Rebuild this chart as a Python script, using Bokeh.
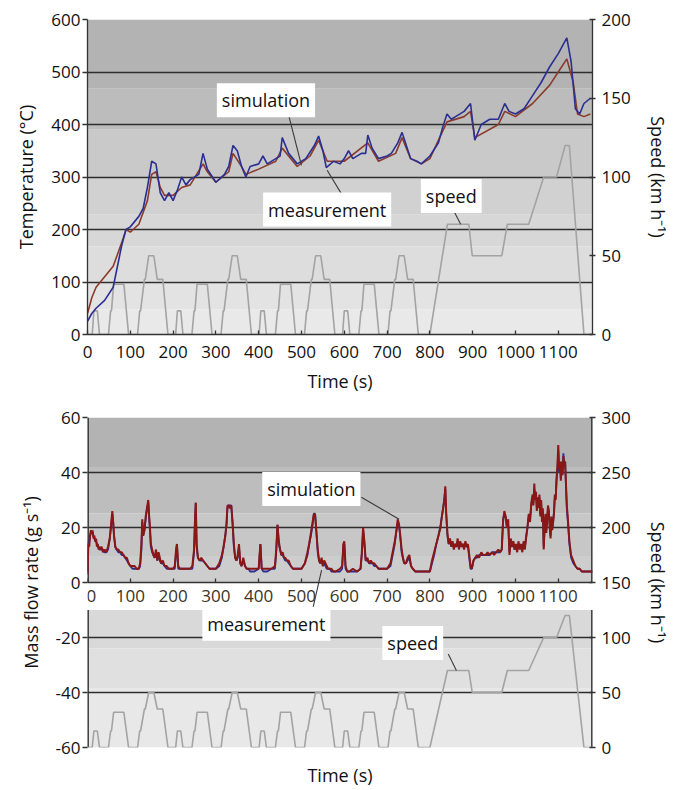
from bokeh.plotting import figure
from bokeh.models import LinearAxis, Range1d, FixedTicker, Label
from bokeh.layouts import column
from bokeh.embed import file_html
from bokeh.resources import INLINE

FONT = "Open Sans"
TICK_SIZE = "17px"
TITLE_SIZE = "18px"
LABEL_SIZE = "18px"

# ------------------------------------------------------------------ data
# exhaust temperature (top panel)
temp_sim_t = [0, 10, 20, 40, 60, 70, 80, 90, 100, 110,
              120, 130, 140, 150, 160, 170, 180, 190, 200, 210,
              220, 230, 240, 260, 270, 280, 300, 320, 330, 340,
              350, 360, 370, 380, 400, 410, 420, 440, 450, 455,
              470, 490, 510, 530, 540, 550, 558, 575, 590, 600,
              610, 620, 640, 650, 655, 665, 680, 700, 710, 725,
              735, 745, 755, 770, 780, 800, 820, 830, 840, 850,
              860, 880, 895, 905, 920, 940, 960, 975, 985, 1000,
              1020, 1040, 1060, 1080, 1100, 1120, 1130, 1140, 1150, 1160,
              1175]
temp_sim = [25, 40, 50, 65, 90, 130, 170, 200, 205, 215,
            225, 240, 280, 330, 325, 270, 255, 270, 255, 275,
            300, 285, 295, 305, 345, 315, 290, 305, 320, 360,
            350, 320, 300, 320, 325, 340, 325, 335, 340, 375,
            345, 325, 335, 360, 378, 350, 318, 330, 325, 335,
            350, 335, 345, 345, 380, 355, 335, 340, 345, 365,
            385, 360, 335, 330, 325, 340, 365, 395, 420, 410,
            415, 425, 440, 370, 400, 410, 410, 440, 425, 420,
            430, 455, 480, 510, 535, 565, 520, 430, 420, 440,
            450]
temp_meas_t = [0, 10, 20, 40, 60, 80, 90, 100, 120, 140,
               150, 160, 170, 180, 200, 220, 240, 270, 280, 300,
               330, 340, 360, 370, 400, 440, 455, 490, 520, 540,
               560, 600, 655, 680, 720, 735, 755, 780, 800, 840,
               880, 895, 905, 960, 975, 1000, 1040, 1080, 1100, 1120,
               1135, 1145, 1160, 1175]
temp_meas = [40, 70, 90, 110, 130, 175, 200, 195, 210, 255,
             305, 310, 280, 265, 265, 280, 285, 325, 310, 290,
             310, 345, 320, 305, 315, 330, 355, 320, 340, 370,
             330, 330, 365, 330, 345, 375, 335, 325, 335, 405,
             415, 425, 375, 400, 425, 415, 440, 475, 500, 525,
             480, 420, 415, 420]

# vehicle speed (NEDC)
speed_t = [0, 11, 15, 23, 28, 49, 54, 56, 61, 85, 96, 117, 122, 124, 133, 135, 143, 155, 163, 176, 188,
           195, 206, 210, 218, 223, 244, 249, 251, 256, 280, 291, 312, 317, 319, 328, 330, 338, 350, 358, 371, 383,
           390, 401, 405, 413, 418, 439, 444, 446, 451, 475, 486, 507, 512, 514, 523, 525, 533, 545, 553, 566, 578,
           585, 596, 600, 608, 613, 634, 639, 641, 646, 670, 681, 702, 707, 709, 718, 720, 728, 740, 748, 761, 773,
           780, 800, 841, 891, 899, 968, 981, 1031, 1066, 1096, 1116, 1126, 1160, 1180]
speed_v = [0, 0, 15, 15, 0, 0, 15, 15, 32, 32, 0, 0, 15, 15, 35, 35, 50, 50, 35, 35, 0,
           0, 0, 15, 15, 0, 0, 15, 15, 32, 32, 0, 0, 15, 15, 35, 35, 50, 50, 35, 35, 0,
           0, 0, 15, 15, 0, 0, 15, 15, 32, 32, 0, 0, 15, 15, 35, 35, 50, 50, 35, 35, 0,
           0, 0, 15, 15, 0, 0, 15, 15, 32, 32, 0, 0, 15, 15, 35, 35, 50, 50, 35, 35, 0,
           0, 0, 70, 70, 50, 50, 70, 70, 100, 100, 120, 120, 0, 0]

# exhaust mass flow rate (bottom panel)
mf_t = [0, 2, 4, 6, 8, 10, 12, 14, 16, 18,
        20, 22, 24, 26, 28, 30, 33, 36, 40, 44,
        48, 52, 55, 58, 60, 62, 65, 68, 72, 76,
        80, 84, 88, 92, 96, 100, 105, 110, 115, 120,
        123, 126, 128, 130, 133, 136, 139, 142, 144, 146,
        148, 151, 154, 157, 160, 163, 166, 169, 172, 176,
        180, 185, 190, 195,
        200, 204, 207, 209, 212, 216, 220, 230, 240, 245,
        249, 251, 253, 255, 258, 262, 266, 270, 275, 280,
        285, 290, 300, 308, 314, 318, 322, 325, 327, 330,
        333, 336, 339, 342, 345, 348, 351, 354, 357, 360,
        364, 368, 372, 376, 380, 390,
        400, 402, 404, 407, 411, 420, 430, 438, 441, 444,
        447, 450, 453, 456, 459, 462, 466, 470, 475, 480,
        490, 500, 508, 514, 518, 522, 526, 529, 532, 535,
        538, 541, 544, 547, 550, 553, 556, 559, 562, 566,
        570, 575, 580, 590, 595,
        598, 600, 603, 607, 612, 620, 630, 638, 641, 644,
        647, 650, 654, 658, 662, 666, 670, 675, 680, 690,
        700, 708, 713, 718, 722, 725, 728, 731, 734, 737,
        740, 744, 748, 752, 756, 760, 766, 772, 780, 790,
        800, 805, 810, 815, 820, 825, 828, 831, 834, 836,
        838, 841, 844, 847, 850, 853, 856, 859, 862, 865,
        868, 871, 874, 877, 880, 883, 886, 889, 892, 895,
        898, 902, 906, 910, 915, 920, 925, 930, 935, 940,
        945, 950, 955, 960, 964, 968, 971, 974, 977, 980,
        983, 986, 989, 992, 995, 998,
        1001, 1004, 1007, 1010, 1013, 1016, 1019, 1022, 1025, 1028,
        1031, 1034, 1037, 1040, 1042, 1044, 1046, 1048, 1050, 1052,
        1054, 1056, 1058, 1060, 1062, 1064, 1066, 1068, 1070, 1072,
        1074, 1076, 1078, 1080, 1082, 1084, 1086, 1088, 1090, 1092,
        1094, 1096, 1098, 1100, 1102, 1104, 1106, 1108, 1110, 1112,
        1114, 1116, 1118, 1120, 1123, 1126, 1130, 1135, 1140, 1145,
        1150, 1155, 1160, 1170, 1180]
mf_meas = [3, 14, 13, 17, 19, 18, 19, 16, 17, 15,
           16, 13, 14, 12, 13, 12, 13, 11, 12, 11,
           13, 16, 21, 26, 22, 17, 13, 12, 12, 11,
           11, 10, 9, 9, 7, 6, 6, 6, 5, 5,
           7, 14, 23, 17, 19, 24, 27, 30, 24, 20,
           14, 12, 10, 9, 12, 8, 11, 9, 7, 8,
           6, 6, 5, 5,
           5, 6, 12, 14, 6, 5, 5, 5, 5, 6,
           12, 22, 29, 14, 9, 8, 9, 8, 7, 6,
           5, 5, 5, 7, 10, 13, 17, 22, 28, 28,
           27, 28, 22, 14, 9, 8, 10, 14, 7, 6,
           9, 6, 5, 5, 5, 5,
           5, 10, 14, 5, 5, 5, 5, 6, 12, 21,
           15, 12, 10, 11, 9, 9, 8, 8, 6, 5,
           5, 5, 7, 11, 14, 18, 22, 25, 24, 18,
           12, 8, 7, 9, 6, 8, 7, 6, 5, 5,
           5, 4, 4, 5, 6,
           14, 15, 6, 4, 4, 5, 4, 5, 11, 20,
           15, 8, 9, 7, 8, 7, 7, 6, 5, 5,
           5, 7, 11, 15, 19, 23, 21, 17, 12, 9,
           7, 7, 9, 10, 6, 5, 4, 4, 4, 4,
           4, 8, 11, 14, 17, 20, 24, 27, 30, 35,
           26, 18, 14, 16, 13, 15, 12, 14, 13, 16,
           12, 15, 13, 14, 12, 15, 13, 14, 10, 6,
           5, 8, 9, 10, 9, 11, 10, 10, 11, 10,
           11, 10, 11, 12, 11, 12, 22, 26, 24, 20,
           23, 10, 16, 13, 15, 12,
           14, 11, 15, 12, 14, 11, 15, 12, 17, 20,
           25, 22, 29, 32, 28, 36, 30, 33, 26, 31,
           27, 32, 24, 30, 22, 27, 12, 20, 25, 18,
           23, 28, 26, 20, 16, 24, 19, 22, 25, 32,
           30, 38, 42, 50, 41, 44, 37, 43, 39, 46,
           42, 44, 36, 28, 22, 15, 10, 8, 6, 5,
           5, 4, 4, 4, 4]
mf_sim = [4, 15, 15, 17, 18, 18, 18, 17, 16, 15,
          15, 14, 13, 13, 12, 12, 12, 12, 11, 11,
          12, 16, 20, 25, 22, 17, 13, 12, 11, 11,
          10, 10, 9, 8, 7, 6, 5, 5, 5, 5,
          6, 12, 22, 17, 19, 23, 27, 29, 24, 19,
          13, 11, 10, 9, 11, 8, 10, 8, 7, 7,
          6, 5, 5, 5,
          5, 5, 11, 14, 5, 5, 5, 5, 5, 5,
          11, 21, 29, 13, 9, 8, 8, 8, 7, 6,
          5, 5, 5, 6, 9, 13, 17, 21, 27, 28,
          28, 28, 21, 13, 9, 8, 9, 13, 7, 6,
          8, 6, 5, 5, 4, 4,
          5, 9, 14, 5, 4, 4, 5, 5, 11, 21,
          14, 12, 10, 10, 9, 8, 8, 7, 6, 5,
          5, 5, 7, 10, 14, 17, 21, 25, 25, 18,
          11, 8, 7, 8, 6, 7, 6, 5, 5, 5,
          4, 4, 4, 4, 5,
          14, 14, 5, 4, 4, 4, 4, 5, 10, 19,
          14, 8, 8, 7, 7, 7, 6, 6, 5, 5,
          5, 6, 10, 14, 19, 22, 21, 16, 11, 9,
          7, 7, 8, 9, 6, 5, 4, 4, 4, 4,
          4, 7, 10, 14, 17, 21, 24, 27, 31, 34,
          25, 17, 14, 15, 14, 14, 13, 14, 13, 14,
          13, 14, 13, 14, 13, 14, 13, 13, 9, 5,
          5, 8, 9, 9, 10, 10, 10, 10, 10, 10,
          11, 11, 11, 11, 11, 12, 23, 25, 24, 20,
          21, 11, 14, 13, 14, 12,
          13, 12, 14, 13, 13, 12, 14, 13, 16, 20,
          24, 23, 28, 31, 29, 34, 31, 32, 27, 30,
          28, 31, 25, 29, 23, 26, 13, 19, 24, 19,
          22, 27, 26, 21, 17, 23, 20, 22, 26, 31,
          31, 37, 41, 48, 40, 43, 38, 44, 40, 47,
          43, 44, 35, 27, 21, 14, 9, 7, 6, 5,
          5, 4, 4, 4, 4]

# axes / ticks
T_MAX = 1180
time_ticks = [0, 100, 200, 300, 400, 500, 600, 700, 800, 900, 1000, 1100]
temp_ticks = [0, 100, 200, 300, 400, 500, 600]
temp_grid = [100, 200, 300, 400, 500]
speed_top_ticks = [0, 50, 100, 150, 200]
mf_ticks = [-60, -40, -20, 0, 20, 40, 60]
mf_grid = [-40, -20, 20, 40]
speed_bot_ticks = [0, 50, 100, 150, 200, 250, 300]
MF_BAND = (-10, 0)   # white band holding the time tick labels

# ------------------------------------------------------------------ styles
SIM_COLOR = "#2b2f92"
MEAS_TOP_COLOR = "#8a3b2b"
MEAS_BOT_COLOR = "#8b1616"
SPEED_COLOR = "#a3a3a3"
AX_COLOR = "#333333"
TXT_COLOR = "#111111"

# background gradient bands: (bottom fraction, top fraction, colour)
TOP_BANDS = [(0.78, 1.00, "#b3b3b3"), (0.65, 0.78, "#bcbcbc"), (0.50, 0.65, "#c9c9c9"),
             (0.38, 0.50, "#d1d1d1"), (0.28, 0.38, "#d7d7d7"), (0.17, 0.28, "#dddddd"),
             (0.08, 0.17, "#e3e3e3"), (0.00, 0.08, "#e9e9e9")]
BOT_BANDS = [(0.85, 1.00, "#b3b3b3"), (0.71, 0.85, "#bdbdbd"), (0.58, 0.71, "#c7c7c7"),
             (0.50, 0.58, "#cdcdcd"), (0.4167, 0.50, "#ffffff"), (0.30, 0.4167, "#d9d9d9"),
             (0.18, 0.30, "#e0e0e0"), (0.00, 0.18, "#e8e8e8")]


def style_axis(ax, tick_in, tick_out, standoff, label_standoff=8):
    ax.axis_line_color = AX_COLOR
    ax.axis_line_width = 1.3
    ax.major_tick_line_color = AX_COLOR
    ax.major_tick_line_width = 1.3
    ax.major_tick_in = tick_in
    ax.major_tick_out = tick_out
    ax.minor_tick_line_color = None
    ax.major_label_text_font = FONT
    ax.major_label_text_font_size = TICK_SIZE
    ax.major_label_text_color = TXT_COLOR
    ax.major_label_standoff = standoff
    ax.axis_label_text_font = FONT
    ax.axis_label_text_font_size = TITLE_SIZE
    ax.axis_label_text_font_style = "normal"
    ax.axis_label_text_color = TXT_COLOR
    ax.axis_label_standoff = label_standoff


def add_bands(p, bands, y0, y1):
    for lo, hi, col in bands:
        p.quad(left=0, right=T_MAX, bottom=y0 + lo * (y1 - y0), top=y0 + hi * (y1 - y0),
               fill_color=col, line_color=None, level="image")


def add_note(p, x, y, text, x0, y0, x1, y1):
    p.segment(x0=[x0], y0=[y0], x1=[x1], y1=[y1], line_color="#3a3a3a", line_width=1.1)
    p.add_layout(Label(x=x, y=y, text=text, text_align="center", text_baseline="middle",
                       text_font=FONT, text_font_size=LABEL_SIZE, text_color=TXT_COLOR,
                       background_fill_color="white", background_fill_alpha=1.0,
                       padding=5))


def base_fig(y0, y1, frame_h, border_top):
    p = figure(frame_width=505, frame_height=frame_h, x_range=Range1d(0, T_MAX),
               y_range=Range1d(y0, y1), output_backend="svg", toolbar_location=None,
               min_border_left=87, min_border_top=border_top, min_border_right=5,
               min_border_bottom=0)
    p.outline_line_color = None
    p.background_fill_color = "white"
    p.border_fill_color = "white"
    p.xgrid.visible = False
    p.ygrid.grid_line_color = "#2e2e2e"
    p.ygrid.grid_line_width = 1.3
    return p


# ------------------------------------------------------------------ top panel
p1 = base_fig(0, 600, 315, 19)
p1.extra_y_ranges = {"speed": Range1d(0, 200)}
add_bands(p1, TOP_BANDS, 0, 600)
p1.ygrid.ticker = FixedTicker(ticks=temp_grid)

p1.xaxis.ticker = FixedTicker(ticks=time_ticks)
p1.xaxis.axis_label = "Time (s)"
style_axis(p1.xaxis[0], 4, 0, 11, 8)
p1.yaxis.ticker = FixedTicker(ticks=temp_ticks)
p1.yaxis.axis_label = "Temperature (°C)"
style_axis(p1.yaxis[0], 0, 5, 2, 10)

r1 = LinearAxis(y_range_name="speed", ticker=FixedTicker(ticks=speed_top_ticks),
                axis_label="Speed (km h⁻¹)")
style_axis(r1, 3, 3, 6, 12)
p1.add_layout(r1, "right")

p1.line(speed_t, speed_v, y_range_name="speed", line_color=SPEED_COLOR, line_width=1.6)
p1.line(temp_meas_t, temp_meas, line_color=MEAS_TOP_COLOR, line_width=1.6)
p1.line(temp_sim_t, temp_sim, line_color=SIM_COLOR, line_width=1.6)

add_note(p1, 417, 446, "simulation", 470, 418, 500, 322)
add_note(p1, 560, 238, "measurement", 560, 313, 603, 255)
add_note(p1, 850, 264, "speed", 853, 240, 872, 210)

# ------------------------------------------------------------------ bottom panel
p2 = base_fig(-60, 60, 330, 22)
p2.extra_y_ranges = {"speed": Range1d(0, 300)}
add_bands(p2, BOT_BANDS, -60, 60)
p2.ygrid.ticker = FixedTicker(ticks=mf_grid)

# title-only bottom axis
bx = p2.xaxis[0]
bx.ticker = FixedTicker(ticks=[])
bx.axis_label = "Time (s)"
style_axis(bx, 0, 0, 0, 15)
bx.axis_line_color = None

# time axis crossing at zero
x0ax = LinearAxis(fixed_location=0, ticker=FixedTicker(ticks=time_ticks),
                  major_label_overrides={0: ""})
style_axis(x0ax, 4, 0, 7)
x0ax.major_label_text_color = "#3b3324"
p2.add_layout(x0ax, "below")
p2.add_layout(Label(x=0, y=0, text="0", text_align="left", text_baseline="top",
                    x_offset=-1, y_offset=-7, text_font=FONT, text_font_size=TICK_SIZE,
                    text_color="#3b3324"))

ly = p2.yaxis[0]
ly.ticker = FixedTicker(ticks=mf_ticks)
ly.major_label_overrides = {t: str(t) for t in mf_ticks}
ly.axis_label = "Mass flow rate (g s⁻¹)"
style_axis(ly, 0, 5, 2, 10)
ly.axis_line_color = None

ry = LinearAxis(y_range_name="speed", ticker=FixedTicker(ticks=speed_bot_ticks),
                axis_label="Speed (km h⁻¹)")
style_axis(ry, 3, 3, 6, 12)
ry.axis_line_color = None
p2.add_layout(ry, "right")

# vertical axis lines, interrupted by the tick-label band (half clipped at frame edge)
for xe in (0, T_MAX):
    p2.segment(x0=[xe, xe], y0=[MF_BAND[1], -60], x1=[xe, xe], y1=[60, MF_BAND[0]],
               line_color=AX_COLOR, line_width=2.8)

p2.line(speed_t, speed_v, y_range_name="speed", line_color=SPEED_COLOR, line_width=1.6)
p2.line(mf_t, mf_sim, line_color=SIM_COLOR, line_width=1.8)
p2.line(mf_t, mf_meas, line_color=MEAS_BOT_COLOR, line_width=2.0)

add_note(p2, 523, 34, "simulation", 640, 31, 728, 23)
add_note(p2, 418, -15, "measurement", 525, -10.5, 547, 4.5)
add_note(p2, 760, -22, "speed", 843, -26, 862, -32)

layout = column(p1, p2)
open("out.html", "w").write(file_html(layout, INLINE))
